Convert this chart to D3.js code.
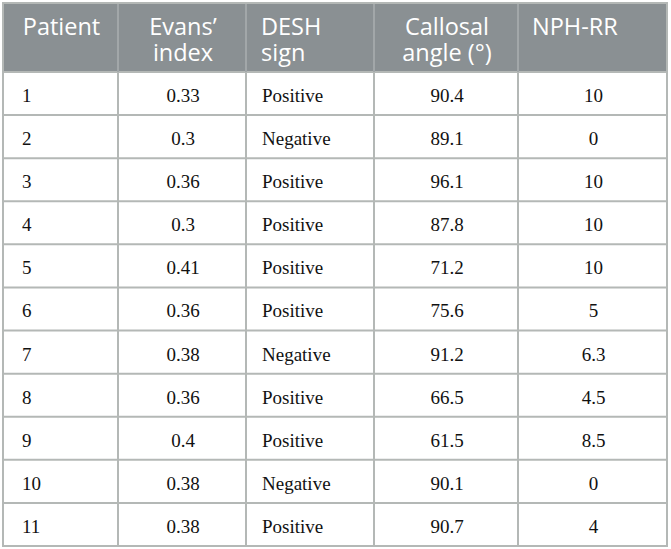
<!DOCTYPE html>
<html><head><meta charset="utf-8">
<script src="https://cdn.jsdelivr.net/npm/d3@7"></script>
<style>html,body{margin:0;padding:0;background:#fff;}</style>
</head><body>
<svg id="c" width="671" height="549"></svg>
<script>
const headers = [["Patient"], ["Evans’", "index"], ["DESH", "sign"], ["Callosal", "angle (°)"], ["NPH-RR"]];
const patients = ["1","2","3","4","5","6","7","8","9","10","11"];
const evans = ["0.33","0.3","0.36","0.3","0.41","0.36","0.38","0.36","0.4","0.38","0.38"];
const desh = ["Positive","Negative","Positive","Positive","Positive","Positive","Negative","Positive","Positive","Negative","Positive"];
const callosal = ["90.4","89.1","96.1","87.8","71.2","75.6","91.2","66.5","61.5","90.1","90.7"];
const nphrr = ["10","0","10","10","10","5","6.3","4.5","8.5","0","4"];

(function(){
const cols = [patients, evans, desh, callosal, nphrr];
const align = ["start","middle","start","middle","middle"];
const padLeft = [19, 0, 16, 0, 0];
const headAnchor = ["middle","middle","start","middle","start"];
const headPad = [0, 0, 15, 0, 14];
const edges = [3,118,246,374,518,667];
const tableTop = 3, headBottom = 72, tableBottom = 546;
const borderCol = "#b4b8b6";

const svg = d3.select("#c");
const y = d3.scaleBand().domain(d3.range(patients.length)).range([headBottom, tableBottom]);

svg.append("rect").attr("x", edges[0]).attr("y", tableTop).attr("width", edges[5]-edges[0]).attr("height", headBottom-tableTop).attr("fill", "#8a9093");

cols.forEach((col, ci) => {
  const x0 = edges[ci], x1 = edges[ci+1];
  svg.append("g").selectAll("text").data(col).join("text")
    .attr("x", align[ci] === "start" ? x0 + padLeft[ci] : (x0 + x1) / 2 + 1)
    .attr("y", (d, i) => y(i) + 30)
    .attr("text-anchor", align[ci])
    .attr("font-family", "Liberation Serif, Times New Roman, serif")
    .attr("font-size", 19)
    .attr("fill", "#111111")
    .text(d => d);
});

headers.forEach((h, ci) => {
  const x0 = edges[ci], x1 = edges[ci+1];
  const hx = headAnchor[ci] === "start" ? x0 + headPad[ci] : (x0 + x1) / 2 + 1;
  const t = svg.append("text")
    .attr("font-family", "Open Sans, sans-serif")
    .attr("font-size", 23.5)
    .attr("text-anchor", headAnchor[ci])
    .attr("fill", "#ffffff");
  h.forEach((line, li) => t.append("tspan").attr("x", hx).attr("y", 34.5 + li * 26).text(line));
});

const g = svg.append("g").attr("stroke", borderCol).attr("stroke-width", 2);
g.selectAll("line.row").data(d3.range(1, patients.length)).join("line")
  .attr("x1", edges[0]).attr("x2", edges[5])
  .attr("y1", i => y(i)).attr("y2", i => y(i));
g.append("line").attr("x1", edges[0]).attr("x2", edges[5]).attr("y1", headBottom).attr("y2", headBottom);
g.append("g").selectAll("line").data(edges.slice(1, 5)).join("line")
  .attr("x1", d => d).attr("x2", d => d).attr("y1", headBottom).attr("y2", tableBottom);
svg.append("g").attr("stroke", "#a2a7a9").attr("stroke-width", 2)
  .selectAll("line").data(edges.slice(1, 5)).join("line")
  .attr("x1", d => d).attr("x2", d => d).attr("y1", tableTop).attr("y2", headBottom);
svg.append("rect").attr("x", edges[0]).attr("y", tableTop).attr("width", edges[5]-edges[0]).attr("height", tableBottom-tableTop)
  .attr("fill", "none").attr("stroke", borderCol).attr("stroke-width", 2);
})();
</script>
</body></html>
